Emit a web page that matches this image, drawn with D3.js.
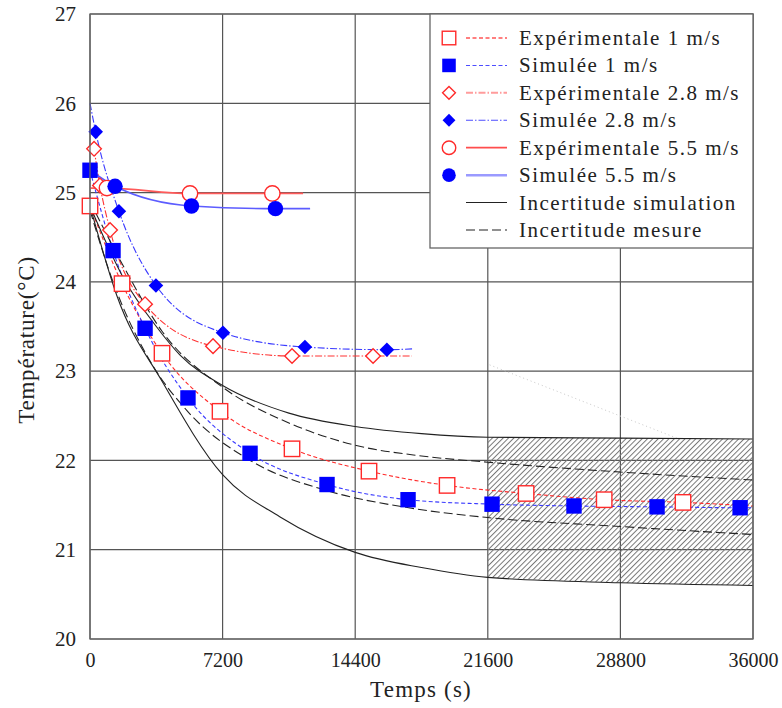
<!DOCTYPE html>
<html>
<head>
<meta charset="utf-8">
<script src="https://cdn.jsdelivr.net/npm/d3@7"></script>
</head>
<body style="margin:0">
<svg id="chart" width="782" height="708"></svg>
<script>
// ticks
var xTicks = [0, 7200, 14400, 21600, 28800, 36000];
var yTicks = [20, 21, 22, 23, 24, 25, 26, 27];

// Expérimentale 1 m/s (last point = end of line, no mark)
var exp1Time = [0, 1740, 3910, 7060, 10970, 15150, 19390, 23680, 27920, 32200, 36000];
var exp1Temp = [24.85, 23.98, 23.2, 22.55, 22.13, 21.88, 21.72, 21.63, 21.56, 21.53, 21.49];
// Simulée 1 m/s
var sim1Time = [0, 1250, 2990, 5320, 8690, 12870, 17270, 21830, 26280, 30790, 35300, 36000];
var sim1Temp = [25.25, 24.35, 23.48, 22.7, 22.08, 21.73, 21.56, 21.51, 21.49, 21.48, 21.47, 21.47];
// Expérimentale 2.8 m/s
var exp28Time = [220, 540, 1090, 2990, 6680, 10970, 15370, 17480];
var exp28Temp = [25.49, 25.08, 24.58, 23.75, 23.28, 23.17, 23.17, 23.17];
// Simulée 2.8 m/s (first point = start of line, no mark)
var sim28Time = [0, 310, 1570, 3580, 7220, 11670, 16120, 17540];
var sim28Temp = [26.0, 25.68, 24.79, 23.96, 23.43, 23.27, 23.24, 23.25];
// Expérimentale 5.5 m/s
var exp55Time = [0, 920, 5430, 9900, 11570];
var exp55Temp = [25.05, 25.05, 24.99, 24.99, 24.99];
// Simulée 5.5 m/s
var sim55Time = [0, 1360, 5510, 10070, 11950];
var sim55Temp = [25.25, 25.07, 24.85, 24.82, 24.82];

// Incertitude simulation (solid black)
var simUpTime = [0, 1800, 3600, 4890, 7200, 10800, 14400, 18000, 21600, 28800, 36000];
var simUpTemp = [24.85, 24.05, 23.5, 23.18, 22.84, 22.53, 22.38, 22.3, 22.26, 22.25, 22.24];
var simLoTime = [0, 1450, 3960, 7200, 10300, 14400, 18000, 21600, 28800, 36000];
var simLoTemp = [24.85, 23.85, 22.87, 21.84, 21.37, 20.97, 20.8, 20.69, 20.63, 20.6];
// Incertitude mesure (dashed black)
var mesUpTime = [0, 1750, 3900, 7200, 10800, 14400, 18000, 21600, 28800, 36000];
var mesUpTemp = [24.9, 24.2, 23.45, 22.82, 22.42, 22.17, 22.05, 21.98, 21.87, 21.78];
var mesLoTime = [0, 1250, 3300, 5300, 8700, 12900, 17300, 21600, 28800, 36000];
var mesLoTemp = [24.8, 24.0, 23.1, 22.55, 22.0, 21.66, 21.47, 21.36, 21.26, 21.17];

var legendLabels = ["Expérimentale 1 m/s", "Simulée 1 m/s", "Expérimentale 2.8 m/s",
    "Simulée 2.8 m/s", "Expérimentale 5.5 m/s", "Simulée 5.5 m/s",
    "Incertitude simulation", "Incertitude mesure"];

var FONT = "Liberation Serif";

function zip(t, v) {
    return t.map(function (d, i) { return { t: d, v: v[i] }; });
}

var svg = d3.select("#chart");
var x = d3.scaleLinear().domain([0, 36000]).range([90, 753]);
var y = d3.scaleLinear().domain([20, 27]).range([639, 14]);

// hatch pattern
var defs = svg.append("defs");
var pat = defs.append("pattern")
    .attr("id", "hatch")
    .attr("patternUnits", "userSpaceOnUse")
    .attr("width", 3.8).attr("height", 3.8)
    .attr("patternTransform", "rotate(45)");
pat.append("line")
    .attr("x1", 0.5).attr("y1", 0).attr("x2", 0.5).attr("y2", 3.8)
    .attr("stroke", "#777").attr("stroke-width", 1);

// grid
svg.append("g").selectAll("line").data(xTicks).enter().append("line")
    .attr("x1", d => x(d)).attr("x2", d => x(d))
    .attr("y1", y(20)).attr("y2", y(27))
    .attr("stroke", "#555").attr("stroke-width", 1.2);
svg.append("g").selectAll("line").data(yTicks).enter().append("line")
    .attr("x1", x(0)).attr("x2", x(36000))
    .attr("y1", d => y(d)).attr("y2", d => y(d))
    .attr("stroke", "#555").attr("stroke-width", 1.2);

// axes labels
var xAxis = svg.append("g").attr("transform", "translate(0," + y(20) + ")")
    .call(d3.axisBottom(x).tickValues(xTicks).tickSize(0).tickPadding(14).tickFormat(d3.format("d")));
xAxis.select(".domain").remove();
xAxis.selectAll("text").attr("fill", "#222").attr("font-family", FONT).attr("font-size", 20);

var yAxis = svg.append("g").attr("transform", "translate(" + x(0) + ",0)")
    .call(d3.axisLeft(y).tickValues(yTicks).tickSize(0).tickPadding(14).tickFormat(d3.format("d")));
yAxis.select(".domain").remove();
yAxis.selectAll("text").attr("fill", "#222").attr("font-family", FONT).attr("font-size", 21);

svg.append("text").text("Temps (s)")
    .attr("x", 421).attr("y", 697).attr("fill", "#222")
    .attr("text-anchor", "middle").attr("font-family", FONT).attr("font-size", 23).attr("letter-spacing", 1.2);
svg.append("text").text("Température(°C)")
    .attr("transform", "translate(34,340) rotate(-90)").attr("fill", "#222")
    .attr("text-anchor", "middle").attr("font-family", FONT).attr("font-size", 23).attr("letter-spacing", 0.8);

// hatched uncertainty zone (t >= 21600)
var upPts = zip(simUpTime, simUpTemp).filter(d => d.t >= 21600);
var loPts = zip(simLoTime, simLoTemp).filter(d => d.t >= 21600);
var hatchArea = d3.area()
    .x(d => x(d.t)).y0((d, i) => y(loPts[i].v)).y1(d => y(d.v))
    .curve(d3.curveMonotoneX);
svg.append("path").attr("d", hatchArea(upPts))
    .attr("fill", "url(#hatch)").attr("stroke", "none");

// faint dotted annotation
svg.append("line")
    .attr("x1", x(21700)).attr("y1", y(23.07))
    .attr("x2", x(31860)).attr("y2", y(22.25))
    .attr("stroke", "#c8c8c8").attr("stroke-width", 1).attr("stroke-dasharray", "1,3");

var line = d3.line().x(d => x(d.t)).y(d => y(d.v)).curve(d3.curveMonotoneX);

var series = [
    { time: exp1Time, temp: exp1Temp, color: "#ff2a2a", width: 1.1, dash: "4,2.5", mark: "square", open: true, skip: [10], legColor: "#ff0000" },
    { time: sim1Time, temp: sim1Temp, color: "#3a3aff", width: 1.1, dash: "4,2.5", mark: "square", open: false, skip: [11], legColor: "#4d4dff" },
    { time: exp28Time, temp: exp28Temp, color: "#ff3333", width: 1.1, dash: "7,2,1.5,2", mark: "diamond", open: true, skip: [7], legColor: "#ff9c9c", legWidth: 2 },
    { time: sim28Time, temp: sim28Temp, color: "#3a3aff", width: 1.1, dash: "7,2,1.5,2", mark: "diamond", open: false, skip: [0, 7], legColor: "#4d4dff" },
    { time: exp55Time, temp: exp55Temp, color: "#ff5a5a", width: 1.8, dash: null, mark: "circle", open: true, skip: [0, 4], legColor: "#ff4d4d" },
    { time: sim55Time, temp: sim55Temp, color: "#5c5cff", width: 1.6, dash: null, mark: "circle", open: false, skip: [0, 4], legColor: "#9a9aff", legWidth: 2.5 }
];

function drawMark(g, type, open, cx, cy, big) {
    var s = big ? 1 : 0.88;
    var el;
    if (type === "circle") {
        el = g.append("circle").attr("cx", cx).attr("cy", cy).attr("r", 7.7 * s);
    } else if (type === "square") {
        var h = 7.7 * s;
        el = g.append("rect").attr("x", cx - h).attr("y", cy - h).attr("width", 2 * h).attr("height", 2 * h);
    } else {
        var r = 7.3 * s;
        el = g.append("path").attr("d", "M" + cx + "," + (cy - r) + "L" + (cx + r) + "," + cy +
            "L" + cx + "," + (cy + r) + "L" + (cx - r) + "," + cy + "Z");
    }
    if (open) el.attr("fill", "#fff").attr("stroke", "#ff2a2a").attr("stroke-width", 1.4);
    else el.attr("fill", "#0000ff").attr("stroke", "none");
}

series.forEach(function (s) {
    svg.append("path").attr("d", line(zip(s.time, s.temp)))
        .attr("fill", "none").attr("stroke", s.color).attr("stroke-width", s.width)
        .attr("stroke-dasharray", s.dash);
});

// uncertainty curves
[[simUpTime, simUpTemp, null], [simLoTime, simLoTemp, null],
 [mesUpTime, mesUpTemp, "9,4"], [mesLoTime, mesLoTemp, "9,4"]].forEach(function (c) {
    svg.append("path").attr("d", line(zip(c[0], c[1])))
        .attr("fill", "none").attr("stroke", "#222").attr("stroke-width", 1.1)
        .attr("stroke-dasharray", c[2]);
});

// markers
var markG = svg.append("g");
series.forEach(function (s) {
    zip(s.time, s.temp).forEach(function (d, i) {
        if (s.skip.indexOf(i) >= 0) return;
        drawMark(markG, s.mark, s.open, x(d.t), y(d.v), true);
    });
});

// frame
svg.append("rect").attr("x", x(0)).attr("y", y(27))
    .attr("width", x(36000) - x(0)).attr("height", y(20) - y(27))
    .attr("fill", "none").attr("stroke", "#666").attr("stroke-width", 1.3);

// legend
var leg = svg.append("g");
leg.append("rect").attr("x", 430).attr("y", 14).attr("width", 323).attr("height", 234)
    .attr("fill", "#fff").attr("stroke", "#666").attr("stroke-width", 1.3);
var rowY = d3.scaleLinear().domain([0, 7]).range([38, 230]);
legendLabels.forEach(function (lab, i) {
    var cy = rowY(i);
    var color, width, dash;
    if (i < 6) {
        var s = series[i];
        drawMark(leg, s.mark, s.open, 449, cy, false);
        color = s.legColor; width = s.legWidth || s.width; dash = s.dash;
    } else {
        color = "#222"; width = 1.1; dash = i === 6 ? null : "9,4";
    }
    leg.append("line").attr("x1", 466).attr("x2", 507).attr("y1", cy).attr("y2", cy)
        .attr("stroke", color).attr("stroke-width", width).attr("stroke-dasharray", dash);
    leg.append("text").text(lab).attr("x", 519).attr("y", cy).attr("dy", "0.33em")
        .attr("fill", "#222").attr("font-family", FONT).attr("font-size", 21).attr("letter-spacing", 1.5);
});
</script>
</body>
</html>
